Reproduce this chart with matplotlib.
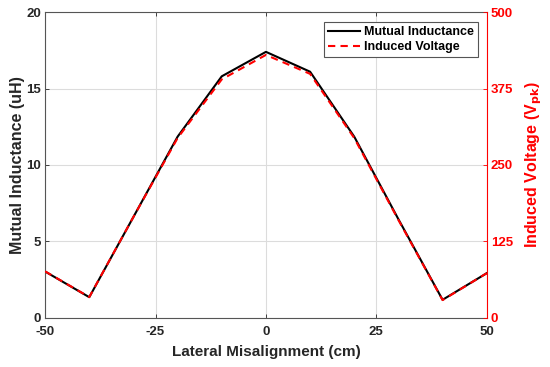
import matplotlib
matplotlib.use("Agg")
import matplotlib.pyplot as plt

plt.rcParams['font.family'] = ['Liberation Sans', 'DejaVu Sans']
plt.rcParams['font.weight'] = 'bold'
plt.rcParams['axes.unicode_minus'] = False

misalignment = [-50, -40, -30, -20, -10, 0, 10, 20, 30, 40, 50]
mutual_inductance = [3.03, 1.35, 6.6, 11.85, 15.8, 17.4, 16.1, 11.85, 6.45, 1.18, 2.92]
induced_voltage = [76, 34, 165, 294, 390, 430, 399, 294, 160, 29, 73]
x_ticks = [-50, -25, 0, 25, 50]
left_ticks = [0, 5, 10, 15, 20]
right_ticks = [0, 125, 250, 375, 500]

fig = plt.figure(figsize=(5.5, 3.67), dpi=100)
ax = fig.add_axes([0.082, 0.134, 0.803, 0.833])
ax2 = ax.twinx()

l1, = ax.plot(misalignment, mutual_inductance, color='black', lw=1.5, label='Mutual Inductance')
l2, = ax2.plot(misalignment, induced_voltage, color='red', lw=1.5, ls=(0, (3.5, 2.5)), label='Induced Voltage')

ax.set_xlim(-50, 50)
ax.set_ylim(0, 20)
ax2.set_ylim(0, 500)
ax.set_xticks(x_ticks)
ax.set_yticks(left_ticks)
ax2.set_yticks(right_ticks)

ax.grid(True, color='#dcdcdc', lw=0.8)
ax.set_axisbelow(True)

ax.tick_params(axis='both', direction='in', length=3, labelsize=9.5, colors='#262626', width=0.6, top=True)
ax.tick_params(axis='x', pad=6)
ax.tick_params(axis='y', pad=3)
ax2.tick_params(axis='y', direction='in', length=3, labelsize=9.5, colors='red', width=0.6, pad=3)
for lab in ax.get_xticklabels() + ax.get_yticklabels() + ax2.get_yticklabels():
    lab.set_fontweight('bold')

for s in ['left', 'bottom', 'top']:
    ax.spines[s].set_color('#555555')
    ax.spines[s].set_linewidth(0.8)
ax2.spines['right'].set_color('red')
ax2.spines['right'].set_linewidth(0.8)
ax2.spines['left'].set_visible(False)
ax2.spines['top'].set_visible(False)
ax2.spines['bottom'].set_visible(False)
ax.spines['right'].set_visible(False)

ax.set_xlabel('Lateral Misalignment (cm)', fontsize=11, fontweight='bold', color='#262626', labelpad=5)
ax.set_ylabel('Mutual Inductance (uH)', fontsize=11.5, fontweight='bold', color='#262626', labelpad=1)
ax2.set_ylabel('Induced Voltage (V$_{\\mathbf{pk}}$)', fontsize=11.5, fontweight='bold', color='red', labelpad=7)

leg = ax2.legend(handles=[l1, l2], loc='upper right', bbox_to_anchor=(0.985, 0.975), fontsize=9,
                 frameon=True, fancybox=False, edgecolor='#555555', framealpha=1,
                 borderpad=0.3, labelspacing=0.25, handlelength=2.6, handletextpad=0.3, borderaxespad=0.2)
leg.get_frame().set_linewidth(0.8)
for t in leg.get_texts():
    t.set_fontweight('bold')

fig.savefig('out.png', dpi=100)
